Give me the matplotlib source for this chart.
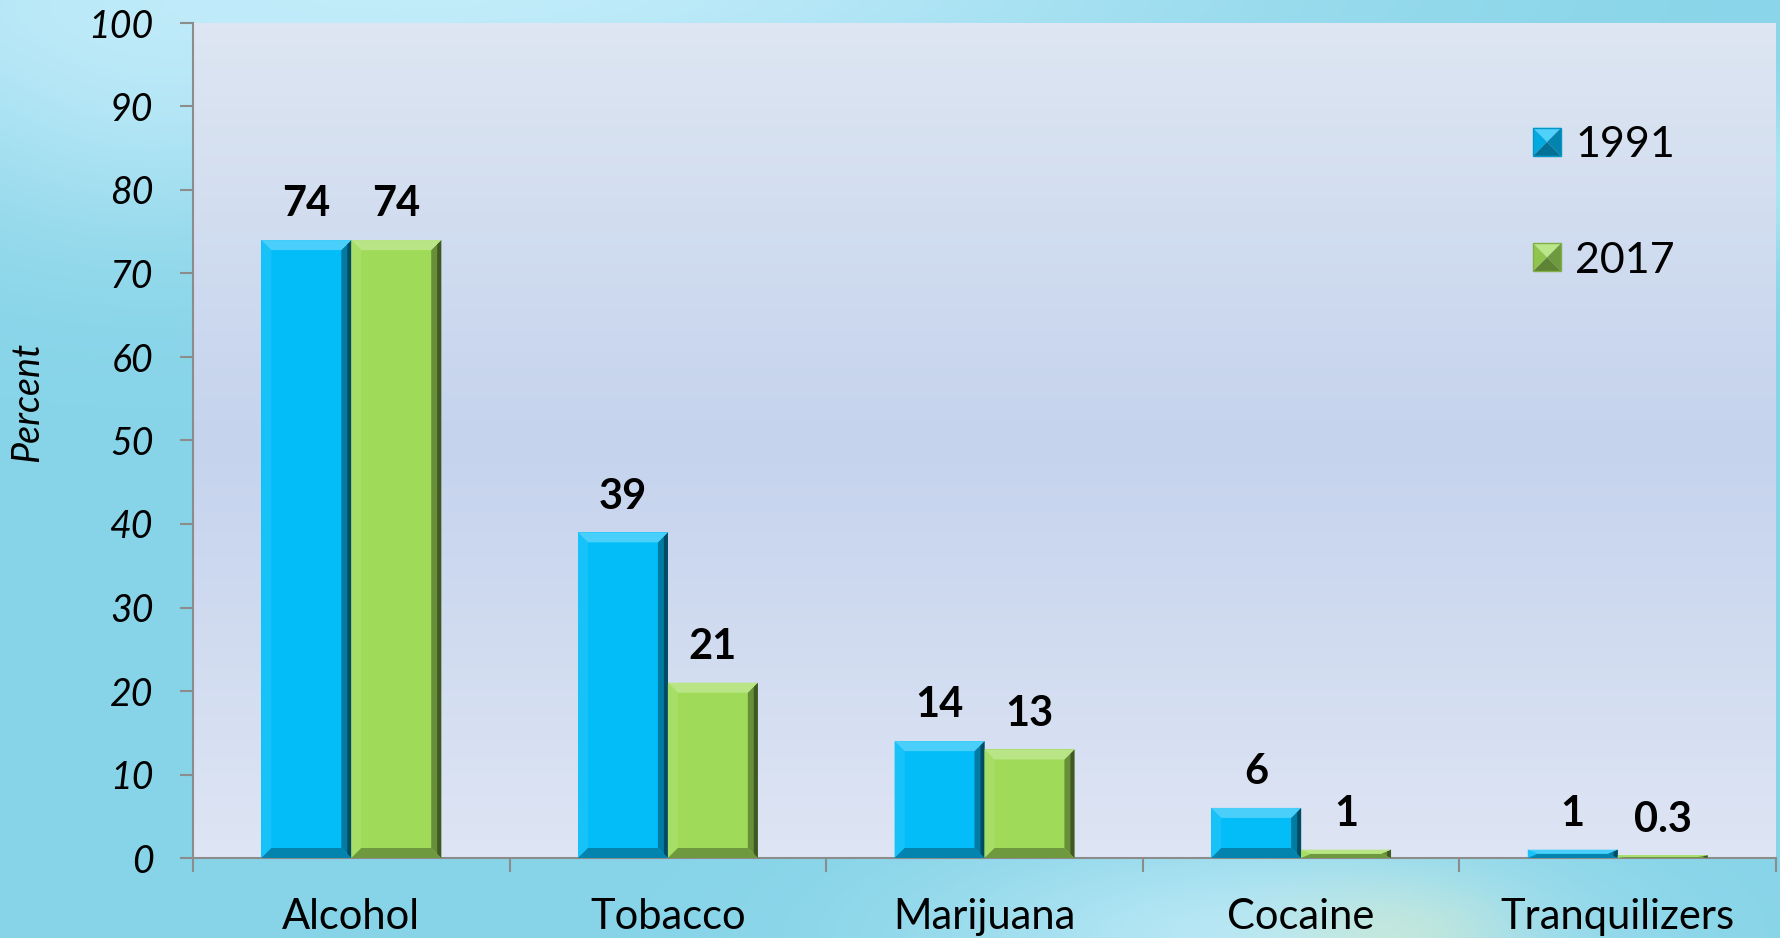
import numpy as np
import matplotlib
matplotlib.use('Agg')
import matplotlib.pyplot as plt
from matplotlib.patches import Polygon, Rectangle
from matplotlib.legend_handler import HandlerBase
from matplotlib.colors import to_rgb

categories = ['Alcohol', 'Tobacco', 'Marijuana', 'Cocaine', 'Tranquilizers']
series_names = ['1991', '2017']
pct_1991 = [74, 39, 14, 6, 1]
pct_2017 = [74, 21, 13, 1, 0.3]
labels_1991 = ['74', '39', '14', '6', '1']
labels_2017 = ['74', '21', '13', '1', '0.3']

blue = '#03BDF9'
green = '#9FDB58'

plt.rcParams['font.family'] = ['Lato', 'DejaVu Sans']

W, H, DPI = 1781, 938, 100
fig = plt.figure(figsize=(W / DPI, H / DPI), dpi=DPI)


def mix(c, other, t):
    c = np.array(to_rgb(c))
    return tuple(c * (1 - t) + np.array(to_rgb(other)) * t)


# cyan slide backdrop with a few soft light patches
bg_ax = fig.add_axes([0, 0, 1, 1], zorder=-10)
bg_ax.set_axis_off()
yy, xx = np.mgrid[0:H, 0:W]
base = np.array([135, 212, 232]) / 255
img = np.ones((H, W, 3)) * base
patches_bg = [
    (450, 0, 550, 70, (198, 238, 252), 0.9),
    (150, 80, 200, 120, (195, 236, 250), 0.7),
    (1250, 938, 220, 70, (195, 236, 248), 0.8),
    (1400, 938, 80, 40, (215, 235, 200), 0.5),
    (1781, 180, 20, 60, (200, 240, 250), 0.6),
]
for cx, cy, sx, sy, col, s in patches_bg:
    w = s * np.exp(-0.5 * (((xx - cx) / sx) ** 2 + ((yy - cy) / sy) ** 2))
    img = img * (1 - w[..., None]) + (np.array(col) / 255) * w[..., None]
bg_ax.imshow(img, extent=[0, 1, 0, 1], aspect='auto', origin='upper')
bg_ax.set_xlim(0, 1)
bg_ax.set_ylim(0, 1)

ax = fig.add_axes([193 / W, (H - 858) / H, 1583 / W, 835 / H])

# plot area: soft vertical gradient
stops = np.array([0.0, 0.5, 1.0])
cols = np.array([[221, 230, 242], [197, 211, 237], [222, 229, 244]]) / 255
t = np.linspace(0, 1, 200)
grad = np.stack([np.interp(t, stops, cols[:, i]) for i in range(3)], axis=-1)
grad = np.repeat(grad[:, None, :], 2, axis=1)
ax.imshow(grad, extent=[-0.5, len(categories) - 0.5, 0, 100], aspect='auto',
          origin='upper', zorder=0)
ax.set_xlim(-0.5, len(categories) - 0.5)
ax.set_ylim(0, 100)

x = np.arange(len(categories))
width = 0.284
bars_a = ax.bar(x - width / 2, pct_1991, width, color=blue, zorder=2, linewidth=0)
bars_b = ax.bar(x + width / 2, pct_2017, width, color=green, zorder=2, linewidth=0)

# bevel size of ~10 px in data units
inv = ax.transData.inverted()
p0 = inv.transform(ax.transData.transform((0, 0)) + np.array([10, 10]))
bx, by = p0[0], p0[1]


def bevel(patch, col):
    x0, w, h = patch.get_x(), patch.get_width(), patch.get_height()
    x1, y0, y1 = x0 + w, 0, h
    ex = min(bx, w / 2)
    ey = min(by, h / 2)
    top = [(x0, y1), (x1, y1), (x1 - ex, y1 - ey), (x0 + ex, y1 - ey)]
    bottom = [(x0, y0), (x1, y0), (x1 - ex, y0 + ey), (x0 + ex, y0 + ey)]
    right = [(x1, y1), (x1, y0), (x1 - ex, y0 + ey), (x1 - ex, y1 - ey)]
    right_out = [(x1, y1), (x1, y0), (x1 - ex * 0.4, y0 + ey * 0.4),
                 (x1 - ex * 0.4, y1 - ey * 0.4)]
    left = [(x0, y1), (x0, y0), (x0 + ex, y0 + ey), (x0 + ex, y1 - ey)]
    ax.add_patch(Polygon(left, closed=True, color=mix(col, 'white', 0.08), lw=0, zorder=3))
    ax.add_patch(Polygon(right, closed=True, color=mix(col, 'black', 0.35), lw=0, zorder=3))
    ax.add_patch(Polygon(right_out, closed=True, color=mix(col, 'black', 0.6), lw=0, zorder=3))
    ax.add_patch(Polygon(bottom, closed=True, color=mix(col, 'black', 0.3), lw=0, zorder=3))
    ax.add_patch(Polygon(top, closed=True, color=mix(col, 'white', 0.28), lw=0, zorder=3))


for bars, col in [(bars_a, blue), (bars_b, green)]:
    for p in bars.patches:
        bevel(p, col)

# value labels
for bars, texts in [(bars_a, labels_1991), (bars_b, labels_2017)]:
    for p, txt in zip(bars.patches, texts):
        ax.annotate(txt, (p.get_x() + p.get_width() / 2, p.get_height()),
                    xytext=(0, 17), textcoords='offset points', ha='center',
                    va='baseline', fontsize=30, fontweight='bold', color='black',
                    zorder=5)

# axes styling
for side in ['top', 'right']:
    ax.spines[side].set_visible(False)
for side in ['left', 'bottom']:
    ax.spines[side].set_color('#8c8c8c')
    ax.spines[side].set_linewidth(1.5)

ax.set_yticks(np.arange(0, 101, 10))
ax.tick_params(axis='y', direction='out', length=9.5, width=1.5, color='#8c8c8c',
               pad=19, labelsize=27)
for lbl in ax.get_yticklabels():
    lbl.set_style('italic')

ax.set_xticks(np.arange(-0.5, len(categories), 1))
ax.set_xticklabels([])
ax.set_xticks(x, categories, minor=True)
ax.tick_params(axis='x', which='major', direction='out', length=10, width=1.5,
               color='#8c8c8c')
ax.tick_params(axis='x', which='minor', length=0, pad=29, labelsize=30)

ax.set_ylabel('Percent', fontsize=27, style='italic', va='center')
ax.yaxis.set_label_coords(-0.105, 0.546)


class BevelSquare(HandlerBase):
    def create_artists(self, legend, orig_handle, xdescent, ydescent, width,
                       height, fontsize, trans):
        col = orig_handle.get_facecolor()[:3]
        s = height
        x0 = -xdescent
        y0 = -ydescent
        cx, cy = x0 + s / 2, y0 + s / 2
        c = [(x0, y0), (x0 + s, y0), (x0 + s, y0 + s), (x0, y0 + s)]
        tris = [
            ([c[3], c[2], (cx, cy)], mix(col, 'white', 0.3)),
            ([c[0], c[3], (cx, cy)], mix(col, 'black', 0.1)),
            ([c[1], c[2], (cx, cy)], mix(col, 'black', 0.3)),
            ([c[0], c[1], (cx, cy)], mix(col, 'black', 0.4)),
        ]
        arts = []
        for pts, fc in tris:
            arts.append(Polygon(pts, closed=True, facecolor=fc, edgecolor='none',
                                transform=trans))
        arts.append(Rectangle((x0, y0), s, s, facecolor='none',
                              edgecolor=mix(col, 'black', 0.2), lw=1,
                              transform=trans))
        return arts


leg = ax.legend([bars_a.patches[0], bars_b.patches[0]], series_names,
                handler_map={Rectangle: BevelSquare()},
                loc='upper left', bbox_to_anchor=(1533 / W, (H - 126) / H),
                bbox_transform=fig.transFigure, frameon=False, fontsize=31,
                handlelength=0.63, handleheight=0.63, handletextpad=0.35,
                labelspacing=1.8, borderpad=0, borderaxespad=0)

fig.savefig('out.png', dpi=DPI)
